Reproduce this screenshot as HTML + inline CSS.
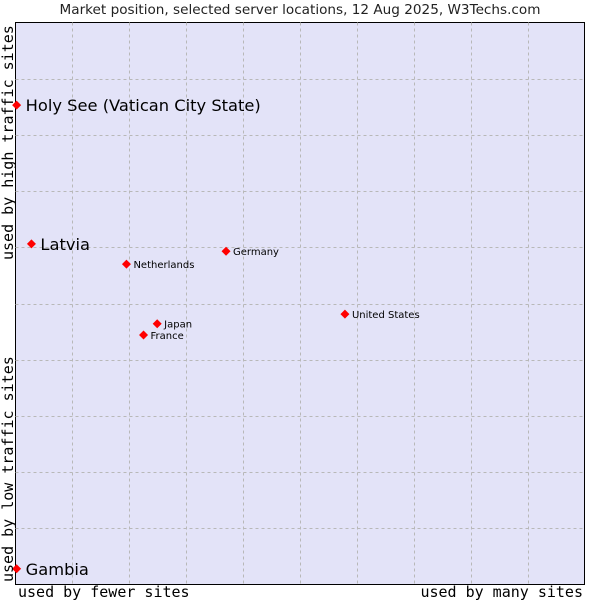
<!DOCTYPE html>
<html><head><meta charset="utf-8"><style>
body{margin:0;background:#fff;width:600px;height:600px;overflow:hidden}
svg{display:block}
</style></head><body>
<svg id="chart" width="600" height="600" xmlns="http://www.w3.org/2000/svg">
<text x="300" y="14" text-anchor="middle" font-family="DejaVu Sans, sans-serif" font-size="13.6" fill="#222">Market position, selected server locations, 12 Aug 2025, W3Techs.com</text>
<rect x="15.5" y="22.5" width="569" height="562" fill="#e3e3f8" stroke="#000" stroke-width="1"/>
<g id="grid"></g>
<g id="pts"></g>
<text x="18" y="597" font-family="DejaVu Sans Mono, monospace" font-size="15" fill="#000">used by fewer sites</text>
<text x="583" y="597" text-anchor="end" font-family="DejaVu Sans Mono, monospace" font-size="15" fill="#000">used by many sites</text>
<text transform="translate(13,582) rotate(-90)" font-family="DejaVu Sans Mono, monospace" font-size="15" fill="#000">used by low traffic sites</text>
<text transform="translate(13,260) rotate(-90)" font-family="DejaVu Sans Mono, monospace" font-size="15" fill="#000">used by high traffic sites</text>
</svg>
<script>
const names=["Holy See (Vatican City State)","Latvia","Netherlands","Germany","United States","Japan","France","Gambia"];
const xVals=[0.02,0.28,1.95,3.70,5.79,2.49,2.25,0.02];
const yVals=[8.53,6.06,5.70,5.93,4.81,4.64,4.44,0.28];
const bigLabel=[true,true,false,false,false,false,false,true];
const X0=15.5,X1=584.5,Y0=584.5,Y1=22.5;
const sx=v=>X0+v/10*(X1-X0), sy=v=>Y0-v/10*(Y0-Y1);
const ns="http://www.w3.org/2000/svg";
const grid=document.getElementById('grid');
for(let i=1;i<10;i++){
 const v=document.createElementNS(ns,'line');
 const x=Math.round(sx(i))+0.5;
 v.setAttribute('x1',x);v.setAttribute('x2',x);v.setAttribute('y1',Y1);v.setAttribute('y2',Y0);
 v.setAttribute('stroke','#b8b8b8');v.setAttribute('stroke-dasharray','3,3');
 
 
 grid.appendChild(v);
 const h=document.createElementNS(ns,'line');
 const y=Math.round(sy(i))+0.5;
 h.setAttribute('x1',X0);h.setAttribute('x2',X1);h.setAttribute('y1',y);h.setAttribute('y2',y);
 h.setAttribute('stroke','#b8b8b8');h.setAttribute('stroke-dasharray','3,3');
 
 
 grid.appendChild(h);
}
const pts=document.getElementById('pts');
names.forEach((n,i)=>{
 const x=sx(xVals[i]),y=sy(yVals[i]);
 const d=document.createElementNS(ns,'path');
 d.setAttribute('d',`M${x-4.5},${y} L${x},${y-4.5} L${x+4.5},${y} L${x},${y+4.5}Z`);
 d.setAttribute('fill','#f00');
 
 
 pts.appendChild(d);
 const t=document.createElementNS(ns,'text');
 t.setAttribute('x',x+(bigLabel[i]?9:7));
 t.setAttribute('y',y+(bigLabel[i]?6:4));
 t.setAttribute('font-family','DejaVu Sans, sans-serif');
 t.setAttribute('font-size',bigLabel[i]?'16.3':'10');
 t.setAttribute('fill','#000');
 t.textContent=n;
 
 
 pts.appendChild(t);
});
</script>
</body></html>
